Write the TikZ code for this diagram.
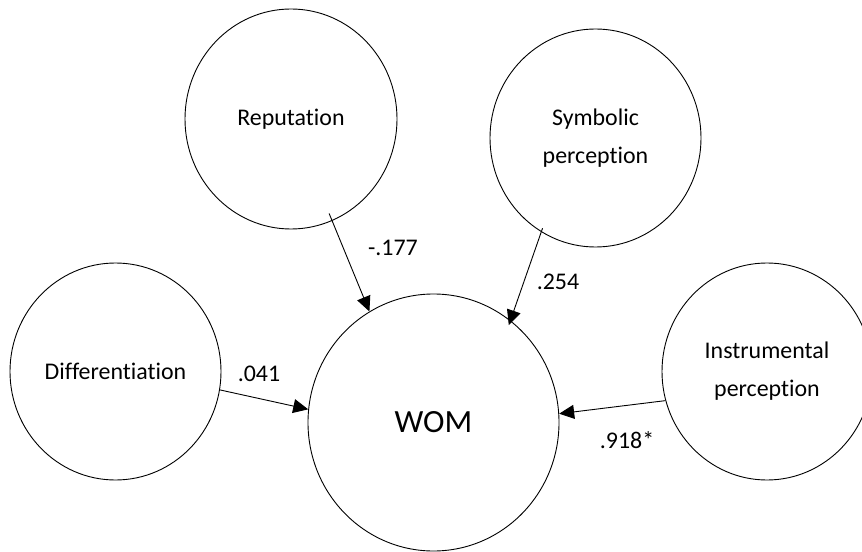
\documentclass[tikz,border=0pt]{standalone}
\usepackage{fontspec}
\setmainfont{Carlito}[Ligatures={NoCommon,NoRequired,NoContextual}]
\usetikzlibrary{shapes.geometric,arrows.meta}
\begin{document}
\begin{tikzpicture}[x=1bp,y=-1bp,
  construct/.style={draw=black, line width=0.9bp, ellipse, inner sep=0pt,
    align=center, font=\fontsize{24}{38}\selectfont},
  effect/.style={-{Triangle[length=15bp,width=14bp]}, line width=0.9bp},
  coef/.style={inner sep=0pt, font=\fontsize{24}{28}\selectfont}]
\clip (0,0) rectangle (862,552);
% latent constructs
\node[construct, minimum width=212bp, minimum height=220bp] (rep) at (291,119) {Reputation};
\node[construct, minimum width=211bp, minimum height=218bp] (sym) at (595.5,138) {Symbolic\\perception};
\node[construct, minimum width=211bp, minimum height=217bp] (dif) at (115.5,371.5) {Differentiation};
\node[construct, minimum width=251bp, minimum height=257bp,
      font=\fontsize{32.5}{38}\selectfont] (wom) at (433.5,422.5) {WOM};
\node[construct, minimum width=210bp, minimum height=217bp] (ins) at (767,371.5) {Instrumental\\perception};
% structural paths
\draw[effect, shorten <=-8bp] (rep.-68) -- (wom.120);
\draw[effect, shorten <=-4bp, shorten >=-5bp] (sym.-120) -- (wom.53);
\draw[effect] (dif.-10) -- (wom.174);
\draw[effect] (ins.196) -- (wom.4);
% path coefficients
\node[coef] (c1) at (393,248) {-.177};
\node[coef] (c2) at (558,282) {.254};
\node[coef] (c3) at (259,373.5) {.041};
\node[coef] (c4) at (627,440) {.918*};
\end{tikzpicture}
\end{document}
